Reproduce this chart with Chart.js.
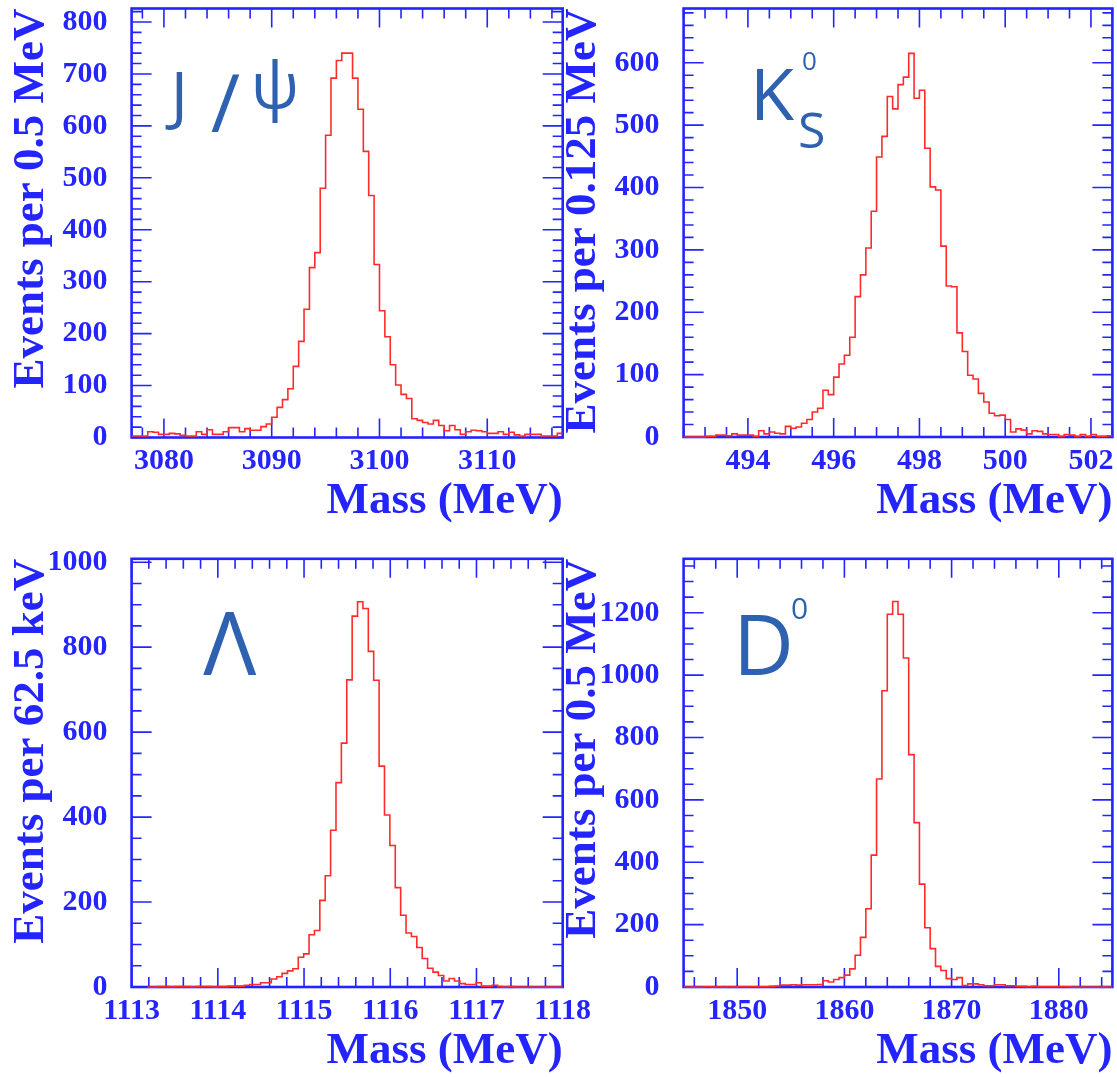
<!DOCTYPE html>
<html>
<head>
<meta charset="utf-8">
<script src="https://cdn.jsdelivr.net/npm/chart.js@4.4.1/dist/chart.umd.min.js"></script>
<style>
  html, body { margin: 0; padding: 0; background: #fff; overflow: hidden; }
  body { width: 1117px; height: 1077px; position: relative; }
  .panel { position: absolute; }
</style>
</head>
<body>
<div class="panel" id="p1"><canvas id="c1"></canvas></div>
<div class="panel" id="p2"><canvas id="c2"></canvas></div>
<div class="panel" id="p3"><canvas id="c3"></canvas></div>
<div class="panel" id="p4"><canvas id="c4"></canvas></div>
<script>
// bin contents (80 bins each)
const JPSI_START = 3077, JPSI_BIN = 0.5;
const jpsiCounts = [3, 3, 3, 11, 10, 6, 6, 8, 7, 4, 3, 3, 11, 6, 15, 6, 6, 11, 19, 19,
  11, 17, 14, 14, 21, 26, 39, 58, 73, 94, 137, 185, 247, 327, 356, 480, 582, 692, 726, 740,
  740, 692, 632, 551, 466, 333, 244, 194, 140, 101, 83, 75, 36, 33, 29, 26, 33, 23, 13, 23,
  15, 6, 11, 14, 13, 11, 8, 8, 11, 6, 10, 5, 3, 6, 6, 6, 3, 3, 3, 8];
const jpsiXTicks = [3080, 3090, 3100, 3110];
const jpsiYTicks = [0, 100, 200, 300, 400, 500, 600, 700, 800];

const KS_START = 492.5, KS_BIN = 0.125;
const ksCounts = [0, 0, 0, 0, 1, 1, 3, 3, 2, 5, 3, 3, 3, 1, 10, 5, 8, 6, 5, 17,
  14, 16, 22, 28, 40, 46, 75, 68, 96, 117, 131, 160, 225, 260, 303, 362, 449, 482, 546, 526,
  565, 577, 615, 543, 556, 463, 401, 396, 306, 242, 241, 167, 137, 99, 93, 70, 56, 38, 34, 35,
  28, 8, 13, 11, 5, 10, 9, 5, 4, 4, 1, 4, 3, 1, 4, 1, 4, 1, 1, 2];
const ksXTicks = [494, 496, 498, 500, 502];
const ksYTicks = [0, 100, 200, 300, 400, 500, 600];

const LAMBDA_START = 1113.183, LAMBDA_BIN = 0.0625;
const lambdaCounts = [0, 0, 1, 1, 0, 1, 1, 1, 0, 1, 1, 1, 0, 1, 1, 2, 2, 2, 4, 6,
  6, 10, 10, 19, 24, 32, 38, 43, 70, 78, 123, 133, 204, 262, 369, 481, 574, 723, 873, 907,
  891, 790, 722, 520, 405, 333, 234, 169, 127, 119, 93, 67, 44, 35, 27, 14, 20, 14, 8, 6,
  6, 10, 2, 2, 4, 1, 0, 1, 0, 0, 0, 0, 0, 0, 0, 0, 0, 0, 0, 0];
const lambdaXTicks = [1113, 1114, 1115, 1116, 1117, 1118];
const lambdaYTicks = [0, 200, 400, 600, 800, 1000];

const D0_START = 1845, D0_BIN = 0.5;
const d0Counts = [0, 0, 0, 0, 1, 0, 1, 0, 1, 0, 1, 0, 1, 1, 1, 1, 2, 3, 6, 6,
  7, 6, 7, 7, 7, 8, 20, 16, 24, 30, 38, 58, 102, 159, 251, 423, 667, 950, 1195, 1236,
  1195, 1055, 745, 527, 330, 190, 123, 66, 53, 27, 24, 30, 5, 10, 10, 7, 4, 4, 7, 7,
  4, 4, 2, 2, 1, 2, 1, 1, 1, 1, 1, 1, 0, 0, 0, 0, 0, 0, 0, 0];
const d0XTicks = [1850, 1860, 1870, 1880];
const d0YTicks = [0, 200, 400, 600, 800, 1000, 1200];

const BLUE = '#2424ff';
const RED = '#ff2b2b';
const INK = '#2e62b0';
const SERIF = '"Liberation Serif", "Times New Roman", serif';

Chart.defaults.font.family = SERIF;

function histPoints(start, bin, counts) {
  const pts = counts.map((c, i) => ({x: start + i * bin, y: c}));
  pts.push({x: start + counts.length * bin, y: counts[counts.length - 1]});
  return pts;
}

function steps(min, max, step) {
  const out = [];
  const n0 = Math.ceil(min / step - 1e-6);
  for (let n = n0; n * step <= max + 1e-6; n++) out.push(n * step);
  return out;
}

// ROOT-like frame with inward ticks on all four sides
function framePlugin(xMinor, yMinor, xMajor, yMajor) {
  return {
    id: 'rootFrame',
    beforeDatasetsDraw(chart) {
      const {ctx, chartArea: a, scales: {x, y}} = chart;
      ctx.save();
      ctx.strokeStyle = BLUE;
      ctx.lineWidth = 1.6;
      ctx.beginPath();
      const xt = (vals, len) => vals.forEach(v => {
        const px = x.getPixelForValue(v);
        if (px < a.left || px > a.right) return;
        ctx.moveTo(px, a.bottom); ctx.lineTo(px, a.bottom - len);
        ctx.moveTo(px, a.top); ctx.lineTo(px, a.top + len);
      });
      const yt = (vals, len) => vals.forEach(v => {
        const py = y.getPixelForValue(v);
        if (py < a.top || py > a.bottom) return;
        ctx.moveTo(a.left, py); ctx.lineTo(a.left + len, py);
        ctx.moveTo(a.right, py); ctx.lineTo(a.right - len, py);
      });
      xt(steps(x.min, x.max, xMinor), 10);
      xt(xMajor, 19);
      yt(steps(y.min, y.max, yMinor), 10);
      yt(yMajor, 20);
      ctx.stroke();
      ctx.lineWidth = 2.6;
      ctx.strokeRect(a.left, a.top, a.width, a.height);
      ctx.restore();
    }
  };
}

// hand-written particle names
function inkPlugin(at, parts) {
  return {
    id: 'inkLabel',
    afterDatasetsDraw(chart) {
      const {ctx, scales: {x, y}} = chart;
      const x0 = x.getPixelForValue(at[0]), y0 = y.getPixelForValue(at[1]);
      ctx.save();
      ctx.fillStyle = INK;
      ctx.textBaseline = 'alphabetic';
      parts.forEach(p => {
        ctx.font = p.size + 'px "Open Sans", "Noto Sans", sans-serif';
        ctx.fillText(p.text, x0 + p.dx, y0 + p.dy);
      });
      ctx.restore();
    }
  };
}

function makePanel(id, canvasId, cfg) {
  const f = cfg.frame;
  const left = Math.round(f.l - 131.6);
  const top = Math.floor(f.t) - 60;
  const yW = f.l - left;
  const padT = f.t - top;
  const width = Math.round(yW + (f.r - f.l) + 50);
  const height = Math.round(padT + (f.b - f.t) + 102.5);
  const padR = width - yW - (f.r - f.l);
  const xH = height - padT - (f.b - f.t);

  const box = document.getElementById(id);
  box.style.left = left + 'px';
  box.style.top = top + 'px';
  box.style.width = width + 'px';
  box.style.height = height + 'px';

  new Chart(document.getElementById(canvasId), {
    type: 'line',
    data: {
      datasets: [{
        data: histPoints(cfg.start, cfg.bin, cfg.counts),
        borderColor: RED,
        borderWidth: 1.6,
        stepped: 'before',
        pointRadius: 0,
        fill: false,
        clip: {left: 0, top: 0, right: 0, bottom: 3}
      }]
    },
    options: {
      responsive: true,
      maintainAspectRatio: false,
      animation: false,
      layout: {padding: {left: 0, top: padT, right: padR, bottom: 0}},
      plugins: {legend: {display: false}, tooltip: {enabled: false}},
      scales: {
        x: {
          type: 'linear',
          min: cfg.xMin,
          max: cfg.xMax,
          grid: {display: false, drawTicks: false},
          border: {display: false},
          afterBuildTicks: s => { s.ticks = cfg.xTicks.map(v => ({value: v})); },
          afterFit: s => { s.height = xH; },
          ticks: {
            autoSkip: false, maxRotation: 0, minRotation: 0, padding: 6, color: BLUE,
            font: {size: 30, weight: 'bold', lineHeight: 1.2},
            callback: v => String(v)
          },
          title: {
            display: true, text: 'Mass (MeV)', align: 'end', color: BLUE,
            font: {size: 45, weight: 'bold', lineHeight: 1},
            padding: {top: 0, bottom: 16}
          }
        },
        y: {
          min: 0,
          max: cfg.yMax,
          grid: {display: false, drawTicks: false},
          border: {display: false},
          afterBuildTicks: s => { s.ticks = cfg.yTicks.map(v => ({value: v})); },
          afterFit: s => { s.width = yW; },
          ticks: {
            autoSkip: false, padding: 24, color: BLUE,
            font: {size: 30, weight: 'bold', lineHeight: 1.2},
            callback: v => String(v)
          },
          title: {
            display: true, text: cfg.yTitle, align: 'end', color: BLUE,
            font: {size: 45, weight: 'bold', lineHeight: 1},
            padding: {top: 9, bottom: 0}
          }
        }
      }
    },
    plugins: [
      framePlugin(cfg.xMinor, cfg.yMinor, cfg.xTicks, cfg.yTicks),
      inkPlugin(cfg.inkAt, cfg.ink)
    ]
  });
}

makePanel('p1', 'c1', {
  frame: {l: 131.6, t: 8.5, r: 562.7, b: 437.5},
  start: JPSI_START, bin: JPSI_BIN, counts: jpsiCounts,
  xMin: 3077, xMax: 3117, yMax: 826,
  xTicks: jpsiXTicks, yTicks: jpsiYTicks, xMinor: 2, yMinor: 20,
  yTitle: 'Events per 0.5 MeV',
  inkAt: [3079.9, 615],
  ink: [{text: 'J', size: 64, dx: 8, dy: 0}, {text: '/', size: 80, dx: 48, dy: 14}, {text: 'ψ', size: 64, dx: 88, dy: -10}]
});

makePanel('p2', 'c2', {
  frame: {l: 683.6, t: 8.5, r: 1112.4, b: 437},
  start: KS_START, bin: KS_BIN, counts: ksCounts,
  xMin: 492.5, xMax: 502.5, yMax: 687,
  xTicks: ksXTicks, yTicks: ksYTicks, xMinor: 0.5, yMinor: 20,
  yTitle: 'Events per 0.125 MeV',
  inkAt: [494.05, 508],
  ink: [{text: 'K', size: 72, dx: 0, dy: 0}, {text: '0', size: 26, dx: 52, dy: -50}, {text: 'S', size: 50, dx: 48, dy: 28}]
});

makePanel('p3', 'c3', {
  frame: {l: 131.6, t: 558.8, r: 562.7, b: 987},
  start: LAMBDA_START, bin: LAMBDA_BIN, counts: lambdaCounts,
  xMin: 1113, xMax: 1118, yMax: 1008,
  xTicks: lambdaXTicks, yTicks: lambdaYTicks, xMinor: 0.2, yMinor: 50,
  yTitle: 'Events per 62.5 keV',
  inkAt: [1113.83, 734],
  ink: [{text: 'Λ', size: 88, dx: 0, dy: 0}]
});

makePanel('p4', 'c4', {
  frame: {l: 683.6, t: 558.8, r: 1112.4, b: 987},
  start: D0_START, bin: D0_BIN, counts: d0Counts,
  xMin: 1845, xMax: 1885, yMax: 1373,
  xTicks: d0XTicks, yTicks: d0YTicks, xMinor: 2, yMinor: 50,
  yTitle: 'Events per 0.5 MeV',
  inkAt: [1849.6, 1000],
  ink: [{text: 'D', size: 84, dx: 0, dy: 0}, {text: '0', size: 30, dx: 58, dy: -56}]
});
</script>
</body>
</html>
